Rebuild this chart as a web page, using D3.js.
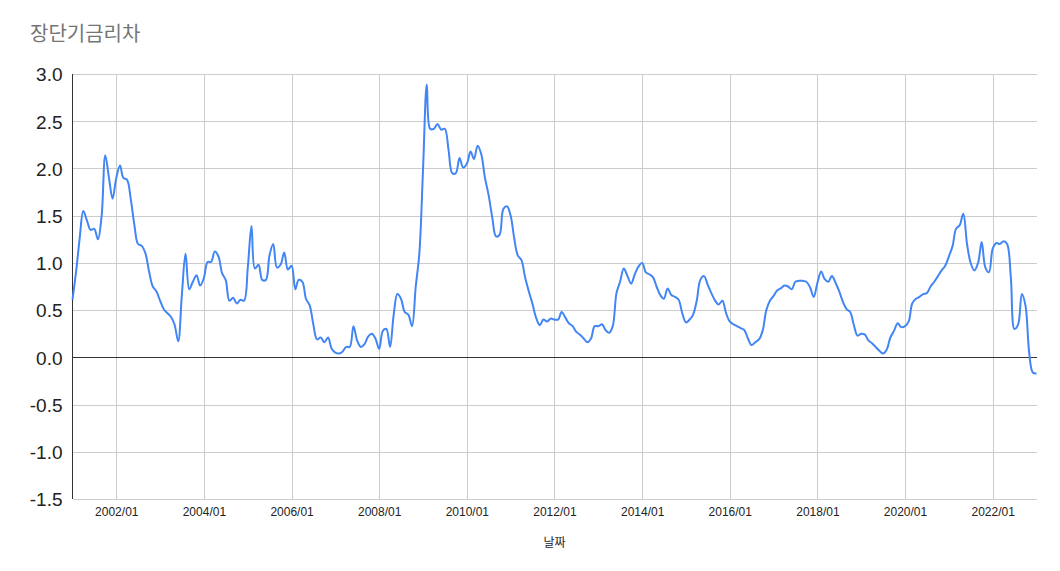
<!DOCTYPE html>
<html>
<head>
<meta charset="utf-8">
<script src="https://cdn.jsdelivr.net/npm/d3@7"></script>
<style>
  html, body { margin: 0; padding: 0; background: #fff; }
  svg { display: block; }
</style>
</head>
<body>
<svg id="chart" width="1060" height="571"></svg>
<script>
// ---- data ----
const chartTitle = "장단기금리차";
const xAxisTitle = "날짜";
const startMonth = "2001/01"; // first observation, monthly thereafter
const spreadValues = [
  0.61, 0.92, 1.25, 1.55, 1.45, 1.35, 1.36, 1.25, 1.50, 2.14, 1.90, 1.68,
  1.90, 2.03, 1.90, 1.88, 1.68, 1.40, 1.20, 1.18, 1.10, 0.91, 0.75, 0.70,
  0.60, 0.51, 0.47, 0.43, 0.35, 0.17, 0.65, 1.10, 0.72, 0.80, 0.87, 0.76,
  0.84, 1.01, 1.01, 1.12, 1.07, 0.89, 0.82, 0.60, 0.63, 0.57, 0.61, 0.60,
  0.95, 1.39, 0.94, 0.98, 0.82, 0.82, 1.08, 1.20, 0.95, 0.98, 1.11, 0.93,
  0.97, 0.72, 0.82, 0.80, 0.62, 0.55, 0.35, 0.19, 0.21, 0.16, 0.21, 0.09,
  0.05, 0.04, 0.06, 0.11, 0.11, 0.33, 0.18, 0.11, 0.14, 0.22, 0.25, 0.20,
  0.09, 0.28, 0.30, 0.11, 0.45, 0.67, 0.62, 0.48, 0.45, 0.33, 0.75, 1.10,
  2.00, 2.89, 2.42, 2.42, 2.47, 2.41, 2.42, 2.20, 1.95, 1.95, 2.11, 2.01,
  2.05, 2.18, 2.10, 2.24, 2.15, 1.90, 1.72, 1.48, 1.28, 1.30, 1.57, 1.60,
  1.50, 1.25, 1.08, 1.03, 0.85, 0.70, 0.57, 0.42, 0.34, 0.40, 0.38, 0.41,
  0.40, 0.40, 0.48, 0.42, 0.36, 0.33, 0.27, 0.24, 0.20, 0.16, 0.20, 0.33,
  0.33, 0.35, 0.29, 0.26, 0.33, 0.68, 0.80, 0.94, 0.86, 0.78, 0.88, 0.96,
  1.00, 0.90, 0.88, 0.85, 0.75, 0.66, 0.62, 0.73, 0.66, 0.64, 0.61, 0.47,
  0.37, 0.40, 0.45, 0.60, 0.82, 0.86, 0.77, 0.68, 0.60, 0.56, 0.60, 0.47,
  0.38, 0.35, 0.33, 0.31, 0.29, 0.20, 0.13, 0.16, 0.19, 0.28, 0.50, 0.60,
  0.65, 0.71, 0.73, 0.76, 0.75, 0.72, 0.80, 0.81, 0.81, 0.80, 0.74, 0.64,
  0.79, 0.91, 0.83, 0.80, 0.86, 0.79, 0.70, 0.59, 0.51, 0.48, 0.34, 0.23,
  0.25, 0.24, 0.18, 0.15, 0.11, 0.07, 0.04, 0.08, 0.21, 0.28, 0.36, 0.32,
  0.33, 0.38, 0.57, 0.62, 0.64, 0.67, 0.68, 0.75, 0.80, 0.86, 0.92, 0.97,
  1.07, 1.18, 1.36, 1.40, 1.52, 1.20, 1.00, 0.92, 1.00, 1.22, 0.95, 0.90,
  1.15, 1.21, 1.20, 1.23, 1.20, 0.85, 0.30, 0.35, 0.67, 0.55, 0.05, -0.16,
  -0.17
];
const xTickLabels = ["2002/01","2004/01","2006/01","2008/01","2010/01","2012/01",
                     "2014/01","2016/01","2018/01","2020/01","2022/01"];
const yTickValues = [-1.5, -1.0, -0.5, 0.0, 0.5, 1.0, 1.5, 2.0, 2.5, 3.0];

// ---- build ----
const parseMonth = d3.timeParse("%Y/%m");
const start = parseMonth(startMonth);
const data = spreadValues.map((v, i) => ({ date: d3.timeMonth.offset(start, i), value: v }));
const xTicks = xTickLabels.map(parseMonth);

const plotL = 72.5, plotR = 1036.5, plotT = 74, plotB = 499;
const svg = d3.select("#chart");

const x = d3.scaleTime()
  .domain(d3.extent(data, d => d.date))
  .range([plotL, plotR]);
const y = d3.scaleLinear()
  .domain([-1.5, 3.0])
  .range([plotB, plotT]);

// Title
svg.append("text")
  .attr("x", 30).attr("y", 41)
  .attr("font-family", "'Noto Sans CJK KR', 'Noto Sans', sans-serif")
  .attr("font-size", 20)
  .attr("fill", "#757575")
  .text(chartTitle);

// Horizontal gridlines + y labels
const yAxis = d3.axisLeft(y)
  .tickValues(yTickValues)
  .tickSize(-(plotR - plotL))
  .tickPadding(10)
  .tickFormat(d => d.toFixed(1));
const gy = svg.append("g")
  .attr("transform", `translate(${plotL},0)`)
  .call(yAxis);
gy.select(".domain").remove();
gy.selectAll(".tick line")
  .attr("stroke", "#cccccc")
  .attr("shape-rendering", "crispEdges");
gy.selectAll(".tick text")
  .attr("font-family", "'Liberation Sans', Arial, sans-serif")
  .attr("font-size", 19)
  .attr("fill", "#222222")
  .attr("dy", "0.36em");

// Vertical gridlines + x labels
const xAxis = d3.axisBottom(x)
  .tickValues(xTicks)
  .tickSize(-(plotB - plotT))
  .tickPadding(8)
  .tickFormat(d3.timeFormat("%Y/%m"));
const gx = svg.append("g")
  .attr("transform", `translate(0,${plotB})`)
  .call(xAxis);
gx.select(".domain").remove();
gx.selectAll(".tick line")
  .attr("stroke", "#cccccc")
  .attr("shape-rendering", "crispEdges");
gx.selectAll(".tick text")
  .attr("font-family", "'Liberation Sans', Arial, sans-serif")
  .attr("font-size", 12)
  .attr("fill", "#222222");

// Zero baseline
svg.append("line")
  .attr("x1", plotL).attr("x2", plotR)
  .attr("y1", y(0)).attr("y2", y(0))
  .attr("stroke", "#333333")
  .attr("shape-rendering", "crispEdges");

// Left axis line
svg.append("line")
  .attr("x1", plotL).attr("x2", plotL)
  .attr("y1", plotT).attr("y2", plotB)
  .attr("stroke", "#333333")
  .attr("shape-rendering", "crispEdges");

// Series line
const line = d3.line()
  .x(d => x(d.date))
  .y(d => y(d.value))
  .curve(d3.curveCatmullRom.alpha(0.5));
svg.append("path")
  .datum(data)
  .attr("d", line)
  .attr("fill", "none")
  .attr("stroke", "#4285f4")
  .attr("stroke-width", 2)
  .attr("stroke-linejoin", "round");

// X axis title
svg.append("text")
  .attr("x", (plotL + plotR) / 2).attr("y", 547)
  .attr("text-anchor", "middle")
  .attr("font-family", "'Noto Sans CJK KR', sans-serif")
  .attr("font-size", 12)
  .attr("fill", "#222222")
  .text(xAxisTitle);
</script>
</body>
</html>
